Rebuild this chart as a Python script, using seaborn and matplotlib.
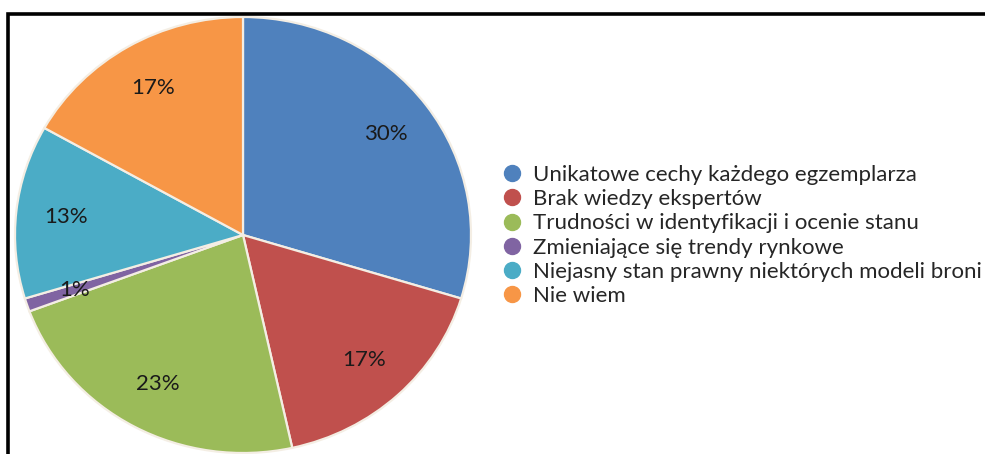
import matplotlib
matplotlib.use("Agg")
import matplotlib.pyplot as plt
import seaborn as sns
from matplotlib.lines import Line2D
from matplotlib.patches import Rectangle

categories = [
    "Unikatowe cechy każdego egzemplarza",
    "Brak wiedzy ekspertów",
    "Trudności w identyfikacji i ocenie stanu",
    "Zmieniające się trendy rynkowe",
    "Niejasny stan prawny niektórych modeli broni",
    "Nie wiem",
]
values = [30, 17, 23, 1, 13, 17]
colors = ["#4F81BD", "#C0504D", "#9BBB59", "#8064A2", "#4BACC6", "#F79646"]

sns.set_theme(style="white")
plt.rcParams["font.family"] = ["Lato", "DejaVu Sans"]

W, H = 985, 454
fig = plt.figure(figsize=(W / 100, H / 100), dpi=100)
fig.patch.set_facecolor("white")

# pie axes (slightly elliptical like the reference)
cx, cy, rx, ry = 243, 235, 228, 218
ax = fig.add_axes([(cx - rx) / W, (H - cy - ry) / H, 2 * rx / W, 2 * ry / H])
ax.axis("off")

total = sum(values)
wedges, texts, autotexts = ax.pie(
    values,
    colors=colors,
    startangle=90,
    counterclock=False,
    radius=1,
    autopct=lambda p: f"{round(p * total / 100):d}%",
    pctdistance=0.78,
    wedgeprops=dict(edgecolor="#F4EEE4", linewidth=1.6),
    textprops=dict(fontsize=16, color="#1a1a1a"),
    frame=False,
)
ax.set_xlim(-1, 1)
ax.set_ylim(-1, 1)
ax.set_aspect("auto")

# frame (left and top edges visible, rest cropped)
fig.add_artist(Rectangle((8 / W, -0.1), 1.2, (H - 14) / H + 0.1, transform=fig.transFigure,
                         fill=False, edgecolor="black", linewidth=2.6, clip_on=False))

handles = [Line2D([0], [0], marker="o", linestyle="none", markersize=11.5,
                  markerfacecolor=c, markeredgecolor=c) for c in colors]
leg = fig.legend(handles, categories, loc="upper left",
                 bbox_to_anchor=(501 / W, (H - 165) / H), frameon=False,
                 fontsize=16, handletextpad=0.45, labelspacing=0.19,
                 borderaxespad=0, handlelength=1.0, borderpad=0)

fig.savefig("out.png", dpi=100, facecolor="white")
